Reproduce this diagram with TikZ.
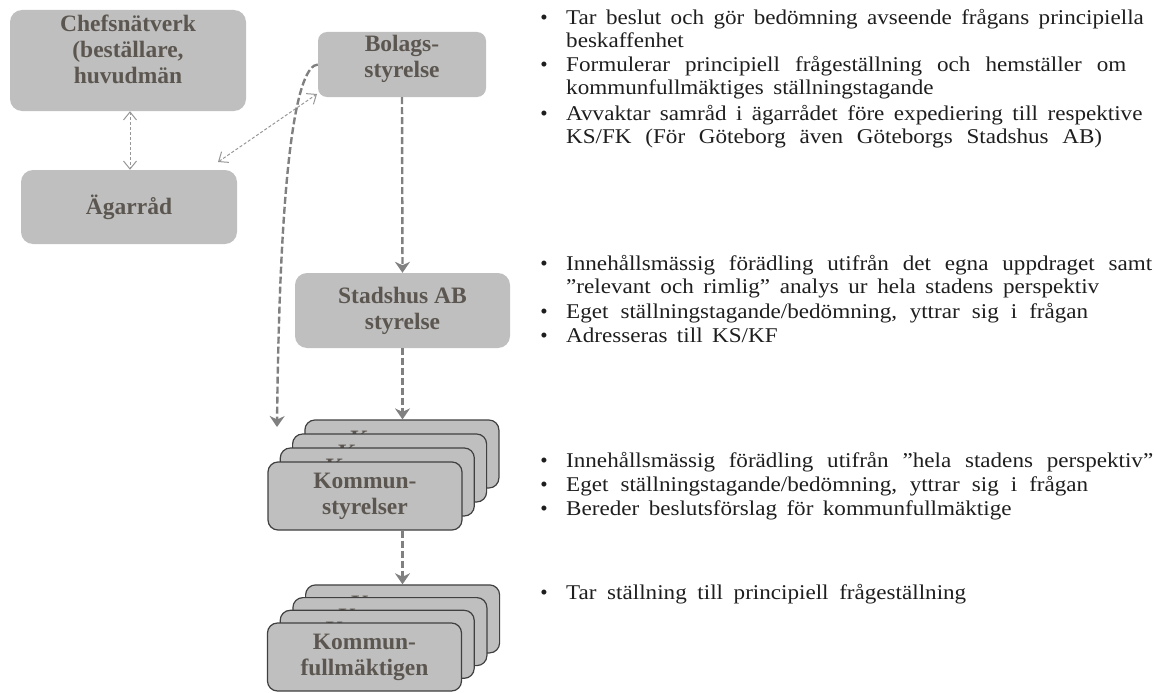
\documentclass[tikz,border=0pt]{standalone}
\usepackage{fontspec}
\setmainfont{Liberation Serif}
\newfontfamily\itemfont[FakeStretch=1.1]{Liberation Serif}
\usetikzlibrary{arrows.meta}
\definecolor{boxfill}{RGB}{191,191,191}
\definecolor{boxtext}{RGB}{92,86,80}
\definecolor{bodytext}{RGB}{30,30,30}
\definecolor{flowgray}{RGB}{128,128,128}
\definecolor{linkgray}{RGB}{150,150,150}
\definecolor{stackedge}{RGB}{64,64,64}
% extra room above the first line of a stacked box
\newcommand\toppad{\rule{0pt}{17pt}}
% one description line, spread to a given width (0 = natural width)
\newcommand\itemline[2]{\ifnum#1=0 #2\else\makebox[#1pt][s]{#2}\fi}
\begin{document}
\begin{tikzpicture}[x=1pt,y=-1pt,
  boxfont/.style={font=\fontsize{23.5}{26}\selectfont\bfseries, text=boxtext},
  topbox/.style={fill=boxfill, rounded corners=12pt, inner sep=0pt, align=center, boxfont},
  boxlabel/.style={inner sep=0pt, align=center, boxfont},
  stackbox/.style={topbox, draw=stackedge, line width=1.2pt, rounded corners=10pt,
    minimum width=194pt, minimum height=68pt},
  flow/.style={draw=flowgray, line width=2.4pt, dash pattern=on 7pt off 3pt,
    -{Stealth[length=11pt,width=15pt,inset=3.5pt]}},
  link/.style={draw=linkgray, line width=1pt, dash pattern=on 3pt off 2pt,
    {Straight Barb[length=8pt,width=13pt]}-{Straight Barb[length=8pt,width=13pt]}},
  itemtext/.style={anchor=base west, inner sep=0pt,
    font=\itemfont\fontsize{21}{24}\selectfont, text=bodytext,
    execute at begin node={\spaceskip=0.45em plus 1em\relax}},
  itemdot/.style={anchor=base, inner sep=0pt, font=\fontsize{21}{24}\selectfont, text=bodytext}]
\useasboundingbox (0,0) rectangle (1154,693);

% upper boxes, their texts set a little above centre
\node[topbox, minimum width=236pt, minimum height=101pt] (chefs) at (128,60.5) {};
\node[boxlabel] (chefslabel) at ([yshift=11pt]chefs.center) {Chefsnätverk\\(beställare,\\huvudmän};
\node[topbox, minimum width=216pt, minimum height=74pt] (agar) at (129,207) {Ägarråd};
\node[topbox, rounded corners=9pt, minimum width=168pt, minimum height=65pt] (bolags) at (402,64.5) {};
\node[boxlabel] (bolagslabel) at ([yshift=6pt]bolags.center) {Bolags-\\styrelse};
\node[topbox, minimum width=215pt, minimum height=75pt] (stad) at (402.5,310.5)
  {Stadshus AB\\styrelse};

% stack of municipal boards, back to front
\foreach \k/\nm in {3/ks3,2/ks2,1/ks1,0/ks0}
  \node[stackbox] (\nm) at (365+12.3*\k,496-14*\k) {\toppad Kommun-\\styrelser};
% stack of municipal councils, back to front
\foreach \k/\nm in {3/kf3,2/kf2,1/kf1,0/kf0}
  \node[stackbox] (\nm) at (364.5+12.7*\k,657-12.7*\k) {\toppad Kommun-\\fullmäktigen};

% flow arrows
\draw[flow] (bolags.south) -- (stad.north);
\draw[flow] (stad.south) -- (stad.south |- ks3.north);
\draw[flow] (ks0.south -| stad.south) -- (stad.south |- kf3.north);
\coordinate (curveend) at (277,427);
\draw[flow] (bolags.west) .. controls (298,66) and (280,150) .. (curveend);

% consultation links
\draw[link] (chefs.south -| 130,0) -- (agar.north -| 130,0);
\coordinate (agarlink) at (218,162);
\coordinate (bolagslink) at (317,94);
\draw[link] (agarlink) -- (bolagslink);

% descriptions: y of line, name, bullet or not, line width, text
\foreach \y/\nm/\b/\w/\txt in {
  20/t1/1/0/{Tar beslut och gör bedömning avseende frågans principiella},
  43/t1b/0/0/{beskaffenhet},
  67/t2/1/560/{Formulerar principiell frågeställning och hemställer om},
  90/t2b/0/0/{kommunfullmäktiges ställningstagande},
  115/t3/1/0/{Avvaktar samråd i ägarrådet före expediering till respektive},
  138/t3b/0/536/{KS/FK (För Göteborg även Göteborgs Stadshus AB)},
  265/t4/1/586/{Innehållsmässig förädling utifrån det egna uppdraget samt},
  288/t4b/0/533/{”relevant och rimlig” analys ur hela stadens perspektiv},
  313/t5/1/522/{Eget ställningstagande/bedömning, yttrar sig i frågan},
  337/t6/1/0/{Adresseras till KS/KF},
  462/t7/1/587/{Innehållsmässig förädling utifrån ”hela stadens perspektiv”},
  486/t8/1/522/{Eget ställningstagande/bedömning, yttrar sig i frågan},
  510/t9/1/369/{Bereder beslutsförslag för kommunfullmäktige},
  594/t10/1/400/{Tar ställning till principiell frågeställning}}
{
  \node[itemtext] (\nm) at (566,\y+5) {\itemline{\w}{\txt}};
  \ifnum\b=1 \node[itemdot] (\nm dot) at (544,\y+5) {•};\fi
}
\end{tikzpicture}
\end{document}
